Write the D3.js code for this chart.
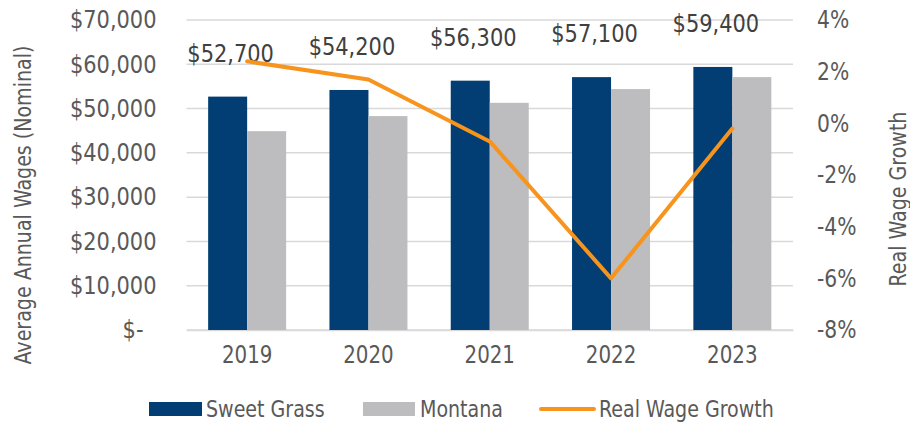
<!DOCTYPE html>
<html>
<head>
<meta charset="utf-8">
<script src="https://cdn.jsdelivr.net/npm/d3@7"></script>
<style>
  body { margin: 0; background: #fff; }
  svg text { font-family: "Liberation Sans Narrow", "Arial Narrow", "DejaVu Sans Condensed", sans-serif; }
</style>
</head>
<body>
<div id="chart"></div>
<script>
// data
const years = ["2019", "2020", "2021", "2022", "2023"];
const sweetGrass = [52700, 54200, 56300, 57100, 59400];
const montana = [44900, 48300, 51300, 54400, 57100];
const realWageGrowth = [2.4, 1.7, -0.7, -6.0, -0.2];
const leftTicks = [0, 10000, 20000, 30000, 40000, 50000, 60000, 70000];
const rightTicks = [-8, -6, -4, -2, 0, 2, 4];
const seriesNames = ["Sweet Grass", "Montana"];

const width = 910, height = 423;
const margin = {top: 20, right: 117, bottom: 93, left: 186.5};
const navy = "#023e73", gray = "#bdbdbf", orange = "#f7941d";
const tickColor = "#595959";
const fontSize = "24.5px";

// squeeze text horizontally so it looks like the narrow font of the original
function squeeze(sel, k) {
    sel.each(function() {
        let w = this.getComputedTextLength();
        d3.select(this)
            .attr("textLength", w * k)
            .attr("lengthAdjust", "spacingAndGlyphs");
    });
}

const svg = d3.select("#chart").append("svg")
    .attr("width", width)
    .attr("height", height);

const x0 = d3.scaleBand()
    .domain(years)
    .range([margin.left, width - margin.right])
    .padding(0);

const x1 = d3.scaleBand()
    .domain(seriesNames)
    .range([0, x0.bandwidth()])
    .paddingOuter(0.555)
    .paddingInner(0);

const yLeft = d3.scaleLinear()
    .domain([0, 70000])
    .range([height - margin.bottom, margin.top]);

const yRight = d3.scaleLinear()
    .domain([-8, 4])
    .range([height - margin.bottom, margin.top]);

// gridlines
svg.append("g")
    .selectAll("line")
    .data(leftTicks)
    .enter()
    .append("line")
    .attr("x1", margin.left)
    .attr("x2", width - margin.right)
    .attr("y1", d => yLeft(d))
    .attr("y2", d => yLeft(d))
    .attr("stroke", "#d9d9d9")
    .attr("stroke-width", 1.5);

// left axis
const leftAxis = svg.append("g")
    .attr("transform", `translate(${margin.left - 30},0)`)
    .call(d3.axisLeft(yLeft).tickValues(leftTicks).tickSize(0)
        .tickFormat(d => d === 0 ? "$-" : "$" + d3.format(",")(d)));
leftAxis.select(".domain").remove();
leftAxis.selectAll("text")
    .attr("x", d => d === 0 ? -13 : 0)
    .attr("fill", tickColor)
    .style("font-size", fontSize)
    .call(squeeze, 0.95);

// right axis
const rightAxis = svg.append("g")
    .attr("transform", `translate(${width - margin.right + 24},0)`)
    .call(d3.axisRight(yRight).tickValues(rightTicks).tickSize(0)
        .tickFormat(d => d + "%"));
rightAxis.select(".domain").remove();
rightAxis.selectAll("text")
    .attr("x", 0)
    .attr("fill", tickColor)
    .style("font-size", fontSize)
    .call(squeeze, 0.92);

// bottom axis
const bottomAxis = svg.append("g")
    .attr("transform", `translate(0,${height - margin.bottom})`)
    .call(d3.axisBottom(x0).tickSize(0).tickPadding(16));
bottomAxis.select(".domain").attr("stroke", "#d9d9d9").attr("stroke-width", 1.5);
bottomAxis.selectAll("text")
    .attr("fill", tickColor)
    .style("font-size", fontSize)
    .call(squeeze, 0.9);

// bars
const groups = svg.append("g")
    .selectAll("g")
    .data(years)
    .enter()
    .append("g")
    .attr("transform", d => `translate(${x0(d)},0)`);

groups.append("rect")
    .attr("x", x1("Sweet Grass"))
    .attr("width", x1.bandwidth())
    .attr("y", (d, i) => yLeft(sweetGrass[i]))
    .attr("height", (d, i) => yLeft(0) - yLeft(sweetGrass[i]))
    .attr("fill", navy);

groups.append("rect")
    .attr("x", x1("Montana"))
    .attr("width", x1.bandwidth())
    .attr("y", (d, i) => yLeft(montana[i]))
    .attr("height", (d, i) => yLeft(0) - yLeft(montana[i]))
    .attr("fill", gray);

// real wage growth line
const line = d3.line()
    .x((d, i) => x0(years[i]) + x0.bandwidth() / 2)
    .y(d => yRight(d));

svg.append("path")
    .datum(realWageGrowth)
    .attr("d", line)
    .attr("fill", "none")
    .attr("stroke", orange)
    .attr("stroke-width", 4)
    .attr("stroke-linejoin", "round")
    .attr("stroke-linecap", "round");

// data labels above the sweet grass bars
groups.append("text")
    .attr("x", x1("Sweet Grass") + x1.bandwidth() / 2 + 3)
    .attr("y", (d, i) => yLeft(sweetGrass[i]) - 35)
    .attr("text-anchor", "middle")
    .attr("fill", "#404040")
    .style("font-size", fontSize)
    .text((d, i) => "$" + d3.format(",")(sweetGrass[i]))
    .call(squeeze, 0.95);

// axis titles
svg.append("text")
    .attr("transform", `translate(31,205) rotate(-90)`)
    .attr("text-anchor", "middle")
    .attr("fill", tickColor)
    .style("font-size", "23px")
    .text("Average Annual Wages (Nominal)")
    .call(squeeze, 0.92);

svg.append("text")
    .attr("transform", `translate(906,199) rotate(-90)`)
    .attr("text-anchor", "middle")
    .attr("fill", tickColor)
    .style("font-size", "23px")
    .text("Real Wage Growth")
    .call(squeeze, 0.92);

// legend
const legendY = 409;
const legendFont = "23.5px";
const legend = svg.append("g");

legend.append("rect")
    .attr("x", 149).attr("y", legendY - 7)
    .attr("width", 53).attr("height", 14)
    .attr("fill", navy);
legend.append("text")
    .attr("x", 206).attr("y", legendY + 8)
    .attr("fill", tickColor)
    .style("font-size", legendFont)
    .text("Sweet Grass")
    .call(squeeze, 0.9);

legend.append("rect")
    .attr("x", 363).attr("y", legendY - 7)
    .attr("width", 52).attr("height", 14)
    .attr("fill", gray);
legend.append("text")
    .attr("x", 420).attr("y", legendY + 8)
    .attr("fill", tickColor)
    .style("font-size", legendFont)
    .text("Montana")
    .call(squeeze, 0.9);

legend.append("line")
    .attr("x1", 541).attr("x2", 594)
    .attr("y1", legendY).attr("y2", legendY)
    .attr("stroke", orange)
    .attr("stroke-width", 4)
    .attr("stroke-linecap", "round");
legend.append("text")
    .attr("x", 599).attr("y", legendY + 8)
    .attr("fill", tickColor)
    .style("font-size", legendFont)
    .text("Real Wage Growth")
    .call(squeeze, 0.9);
</script>
</body>
</html>
